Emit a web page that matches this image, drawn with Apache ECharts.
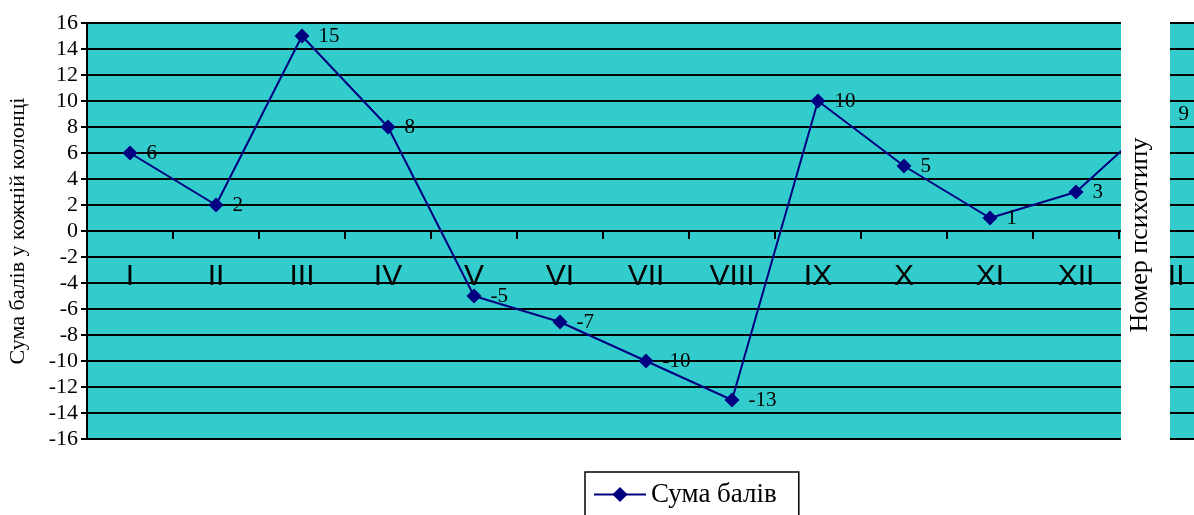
<!DOCTYPE html>
<html>
<head>
<meta charset="utf-8">
<script src="https://cdn.jsdelivr.net/npm/echarts@6/dist/echarts.min.js"></script>
<style>
  html, body { margin: 0; padding: 0; background: #fff; }
  #chart { width: 1194px; height: 515px; }
</style>
</head>
<body>
<div id="chart"></div>
<script>
// номери психотипів (13-й видно лише частково, праворуч)
const categories = ['I', 'II', 'III', 'IV', 'V', 'VI', 'VII', 'VIII', 'IX', 'X', 'XI', 'XII', 'XIII']
// сума балів у кожній колонці
const sumValues = [6, 2, 15, 8, -5, -7, -10, -13, 10, 5, 1, 3, 9]
const yMin = -16
const yMax = 16
const yStep = 2

const serif = 'Liberation Serif'
const myChart = echarts.init(document.getElementById('chart'))

myChart.setOption({
  animation: false,
  // внутрішні відступи сітки, праворуч виходить за край
  grid: {
    left: 87,
    top: 23,
    width: 1118,
    height: 416,
    outerBoundsMode: 'none',
    containLabel: false,
    show: true,
    backgroundColor: '#33CCCC',
    borderWidth: 0
  },
  legend: {
    data: ['Сума балів'],
    left: 585,
    top: 472,
    orient: 'horizontal',
    borderColor: '#000',
    borderWidth: 1.5,
    padding: [9, 22, 14, 8],
    itemWidth: 52,
    itemHeight: 19,
    textStyle: {
      fontFamily: serif,
      fontSize: 27,
      color: '#000'
    }
  },
  xAxis: [{
    // вісь на нулі: лінія та поділки
    type: 'category',
    data: categories,
    boundaryGap: true,
    axisLine: {
      onZero: true,
      lineStyle: { color: '#000', width: 2 }
    },
    axisTick: {
      show: true,
      length: 8,
      lineStyle: { color: '#000', width: 2 }
    },
    axisLabel: { show: false },
    splitLine: { show: false }
  }, {
    // підписи категорій під нульовою лінією
    type: 'category',
    data: categories,
    position: 'bottom',
    offset: -208,
    boundaryGap: true,
    axisLine: { show: false, onZero: false },
    axisTick: { show: false },
    axisLabel: {
      margin: 31,
      fontFamily: 'Liberation Sans',
      fontSize: 30,
      color: '#000'
    },
    splitLine: { show: false }
  }],
  yAxis: {
    type: 'value',
    min: yMin,
    max: yMax,
    interval: yStep,
    name: 'Сума балів у кожній колонці',
    nameLocation: 'middle',
    nameRotate: 90,
    nameGap: 58,
    nameTextStyle: {
      fontFamily: serif,
      fontSize: 22,
      color: '#000'
    },
    axisLine: {
      show: true,
      lineStyle: { color: '#000', width: 2 }
    },
    axisTick: {
      show: true,
      length: 6,
      lineStyle: { color: '#000', width: 2 }
    },
    axisLabel: {
      margin: 9,
      fontFamily: serif,
      fontSize: 22,
      color: '#000'
    },
    splitLine: {
      show: true,
      lineStyle: { color: '#000', width: 2 }
    }
  },
  series: [{
    name: 'Сума балів',
    type: 'line',
    data: sumValues,
    symbol: 'diamond',
    symbolSize: 15,
    clip: true,
    itemStyle: { color: '#000080' },
    lineStyle: { color: '#000080', width: 2 },
    label: {
      show: true,
      position: 'right',
      distance: 9,
      fontFamily: serif,
      fontSize: 21,
      color: '#000'
    },
    z: 5
  }],
  // біла смуга з підписом другої осі
  graphic: [{
    type: 'rect',
    z: 100,
    shape: { x: 1121, y: 0, width: 49, height: 515 },
    style: { fill: '#fff' }
  }, {
    type: 'text',
    z: 101,
    x: 1140,
    y: 235,
    rotation: Math.PI / 2,
    style: {
      text: 'Номер психотипу',
      fontFamily: serif,
      fontSize: 26,
      fill: '#000',
      align: 'center',
      verticalAlign: 'middle'
    }
  }]
})
</script>
</body>
</html>
